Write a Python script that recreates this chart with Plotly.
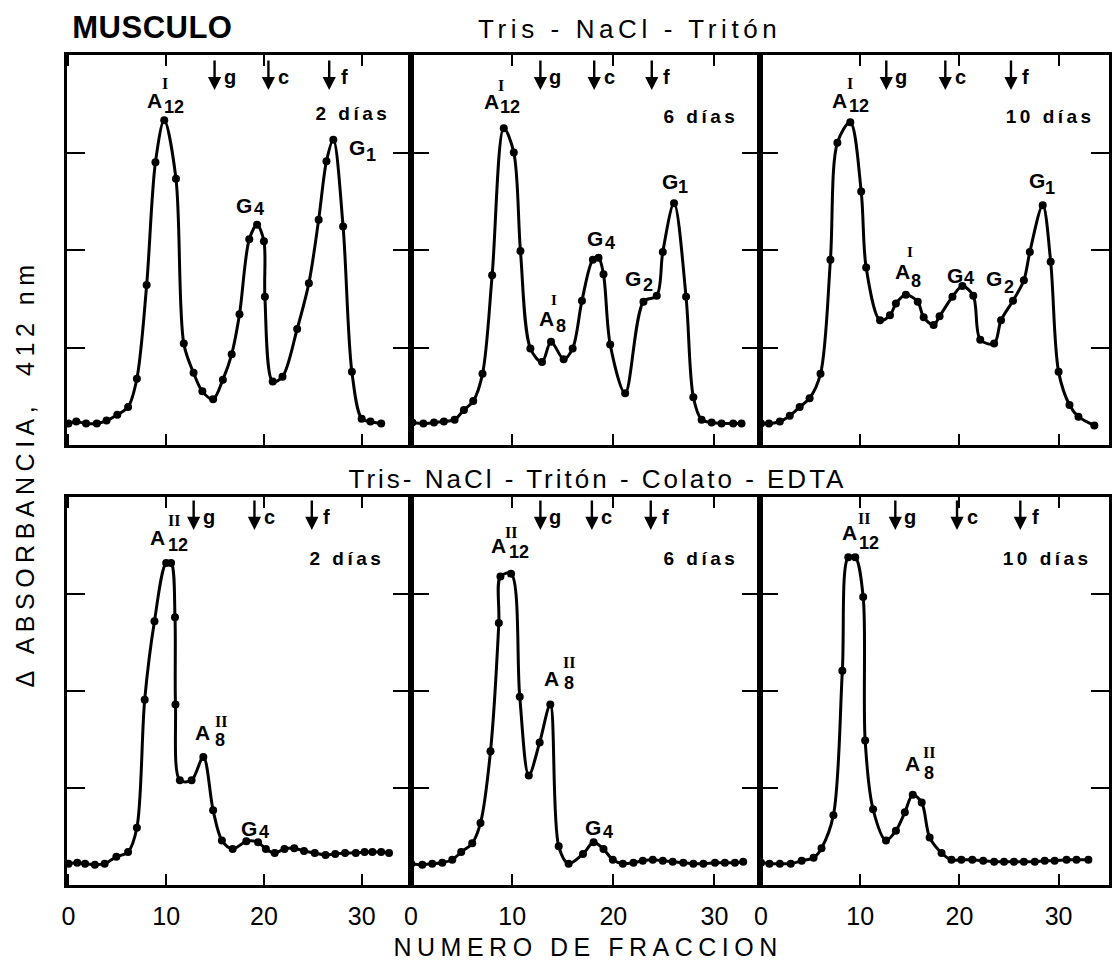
import plotly.graph_objects as go

# ---------------- data (fraction number, delta absorbance in tick units) ----------------
x_p1 = [0, 0.8, 1.8, 2.9, 3.9, 5.0, 6.1, 7.0, 8.0, 8.9, 9.8, 11.0, 11.8, 12.8, 13.7, 14.8, 15.8, 16.7,
        17.5, 18.5, 19.3, 20.0, 20.1, 20.9, 21.9, 23.4, 24.6, 25.6, 26.4, 27.1, 28.1, 29.0, 30.0, 30.9, 32.0]
y_p1 = [0.22, 0.24, 0.22, 0.22, 0.25, 0.31, 0.39, 0.68, 1.64, 2.90, 3.33, 2.73, 1.04, 0.74, 0.55, 0.47, 0.67, 0.93,
        1.34, 2.11, 2.26, 2.09, 1.52, 0.65, 0.70, 1.19, 1.66, 2.31, 2.91, 3.13, 2.24, 0.75, 0.27, 0.24, 0.22]

x_p2 = [0.13, 1.22, 2.27, 3.25, 4.31, 5.23, 6.15, 7.07, 8.02, 9.17, 10.16, 10.82, 11.80, 12.95, 13.84, 15.09,
        15.98, 16.90, 17.98, 18.54, 19.03, 19.69, 21.17, 22.98, 24.29, 24.89, 26.00, 27.19, 27.91, 28.73, 29.72,
        30.70, 31.85, 32.68]
y_p2 = [0.23, 0.22, 0.23, 0.24, 0.26, 0.36, 0.45, 0.73, 1.74, 3.25, 3.00, 1.99, 0.99, 0.85, 1.06, 0.88,
        0.99, 1.48, 1.90, 1.92, 1.75, 1.03, 0.53, 1.47, 1.53, 1.98, 2.48, 1.52, 0.49, 0.26, 0.23,
        0.22, 0.22, 0.22]

x_p3 = [0, 0.8, 1.9, 2.9, 3.9, 4.9, 6.0, 7.0, 7.7, 9.0, 10.1, 10.6, 12.0, 13.0, 13.6, 14.6, 15.8, 16.4, 17.4,
        18.0, 19.3, 20.3, 21.4, 22.1, 23.5, 24.2, 25.4, 26.5, 27.1, 28.4, 29.2, 30.0, 31.1, 32.0, 33.6]
y_p3 = [0.22, 0.22, 0.24, 0.30, 0.39, 0.48, 0.73, 1.90, 3.10, 3.31, 2.60, 1.82, 1.28, 1.33, 1.45, 1.54, 1.47, 1.31,
        1.23, 1.32, 1.52, 1.63, 1.53, 1.08, 1.04, 1.28, 1.48, 1.69, 1.98, 2.46, 1.88, 0.75, 0.41, 0.29, 0.20]

x_p4 = [0, 0.9, 1.7, 2.7, 3.7, 4.9, 6.1, 7.0, 7.8, 8.8, 10.0, 10.5, 10.9, 10.95, 11.4, 12.6, 13.8, 14.8, 15.7,
        16.8, 18.2, 19.4, 20.2, 21.1, 22.1, 23.1, 24.1, 25.2, 26.3, 27.3, 28.3, 29.4, 30.3, 31.1, 32.0, 32.8]
y_p4 = [0.22, 0.23, 0.22, 0.21, 0.22, 0.29, 0.34, 0.59, 1.91, 2.72, 3.32, 3.32, 2.76, 1.86, 1.08, 1.08, 1.32, 0.77,
        0.46, 0.37, 0.45, 0.44, 0.37, 0.33, 0.37, 0.38, 0.35, 0.33, 0.31, 0.32, 0.33, 0.33, 0.34, 0.34, 0.34, 0.33]

x_p5 = [0.03, 1.12, 2.10, 3.09, 4.08, 4.96, 6.05, 6.87, 7.86, 8.68, 8.84, 9.89, 10.75, 11.64, 12.72, 13.77,
        14.60, 15.58, 17.00, 18.05, 19.03, 19.95, 20.94, 21.99, 22.91, 23.90, 24.89, 25.87, 26.92, 27.91,
        28.90, 30.05, 31.03, 32.02, 32.84]
y_p5 = [0.22, 0.21, 0.22, 0.23, 0.26, 0.34, 0.43, 0.64, 1.38, 2.70, 3.18, 3.21, 1.94, 1.13, 1.47, 1.86,
        0.40, 0.22, 0.32, 0.44, 0.37, 0.26, 0.22, 0.23, 0.25, 0.26, 0.25, 0.24, 0.23, 0.22,
        0.22, 0.23, 0.23, 0.23, 0.24]

x_p6 = [0, 0.85, 1.9, 3.0, 4.1, 5.3, 6.1, 7.3, 8.2, 8.8, 9.5, 10.3, 10.5, 11.3, 12.6, 13.6, 14.5, 15.3, 16.2,
        17.0, 18.2, 19.2, 20.2, 21.3, 22.4, 23.5, 24.5, 25.5, 26.5, 27.6, 28.6, 29.6, 30.8, 31.8, 33.0]
y_p6 = [0.23, 0.22, 0.22, 0.22, 0.25, 0.28, 0.38, 0.72, 2.21, 3.38, 3.38, 2.97, 1.49, 0.78, 0.46, 0.56, 0.75,
        0.93, 0.85, 0.49, 0.33, 0.26, 0.26, 0.26, 0.25, 0.24, 0.24, 0.24, 0.24, 0.24, 0.25, 0.25, 0.26, 0.26, 0.26]

# elution positions of markers g, c, f (fraction number) per panel
marker_g = [14.95, 12.79, 12.63, 12.81, 12.79, 13.54]
marker_c = [20.46, 18.11, 18.58, 19.03, 17.88, 19.76]
marker_f = [26.68, 23.80, 25.20, 24.90, 23.70, 26.14]
marker_names = ["g", "c", "f"]

x_tick_vals = [0, 10, 20, 30]
x_tick_text = ["0", "10", "20", "30"]
y_tick_vals = [1, 2, 3]

row_titles = ["Tris - NaCl - Tritón", "Tris- NaCl - Tritón - Colato - EDTA"]
main_title = "MUSCULO"
x_title = "NUMERO DE FRACCION"
y_title = "Δ ABSORBANCIA,  412 nm"

xs = [x_p1, x_p2, x_p3, x_p4, x_p5, x_p6]
ys = [y_p1, y_p2, y_p3, y_p4, y_p5, y_p6]

# ---------------- layout geometry ----------------
W, H = 1114, 978
ML, MR, MT, MB = 67, 2, 55, 93
PW = W - ML - MR
PH = H - MT - MB


def pp(x, y):
    return (x - ML) / PW, (H - MB - y) / PH


col_dom = [[0, 345 / PW], [345 / PW, 695 / PW], [695 / PW, 1.0]]
row_dom = [[(885 - 445) / PH, 1.0], [0.0, (885 - 497) / PH]]
x_ranges = [[-0.15, 35.05], [0, 34.5], [-0.1, 35.08]]

SANS = "Liberation Sans"
SERIF = "Liberation Serif"

fig = go.Figure()
annotations = []

for i in range(6):
    r, c = divmod(i, 3)
    n = i + 1
    xa = "x" if n == 1 else f"x{n}"
    ya = "y" if n == 1 else f"y{n}"
    fig.add_trace(go.Scatter(
        x=xs[i], y=ys[i], mode="lines+markers", xaxis=xa, yaxis=ya,
        line=dict(color="black", width=3, shape="spline", smoothing=0.9),
        marker=dict(color="black", size=8), showlegend=False, hoverinfo="skip"))
    xkey = "xaxis" if n == 1 else f"xaxis{n}"
    ykey = "yaxis" if n == 1 else f"yaxis{n}"
    fig.layout[xkey] = dict(
        domain=col_dom[c], anchor=ya, range=x_ranges[c], tickvals=x_tick_vals, ticktext=x_tick_text,
        ticks="inside", ticklen=11, tickwidth=2.2, tickcolor="black", showline=True, linewidth=2.8,
        linecolor="black", mirror="allticks", showgrid=False, zeroline=False,
        showticklabels=(r == 1), tickfont=dict(family=SANS, size=25, color="black"),
        ticklabelstandoff=7)
    fig.layout[ykey] = dict(
        domain=row_dom[r], anchor=xa, range=[0, 4], tickvals=y_tick_vals,
        ticks="inside", ticklen=18, tickwidth=2.2, tickcolor="black", showline=True, linewidth=2.8,
        linecolor="black", mirror="allticks", showgrid=False, zeroline=False, showticklabels=False)

    head_y = 3.64 if r == 0 else 3.66
    for name, mx in zip(marker_names, [marker_g[i], marker_c[i], marker_f[i]]):
        annotations.append(dict(x=mx, y=head_y, xref=xa, yref=ya, text="", showarrow=True,
                                ax=0, ay=-31, arrowhead=2, arrowsize=1.1, arrowwidth=2.4,
                                arrowcolor="black"))
        annotations.append(dict(x=mx, y=head_y, xref=xa, yref=ya, text=f"<b>{name}</b>",
                                showarrow=False, xshift=15, yshift=13,
                                font=dict(family=SANS, size=20, color="black")))

# peak labels: (text, x_px, y_px, size, family)
peak_labels = [
    # panel 1
    ("A", 155, 100, 21, SANS), ("12", 174, 107, 18, SANS), ("I", 165, 84, 16, SERIF),
    ("2 días", 354, 113, 19, SANS),
    ("G", 245, 206, 21, SANS), ("4", 260, 209, 18, SANS),
    ("G", 358, 147, 21, SANS), ("1", 372, 155, 18, SANS),
    # panel 2
    ("A", 493, 101, 21, SANS), ("12", 511, 107, 18, SANS), ("I", 502, 85, 16, SERIF),
    ("6 días", 703, 117, 19, SANS),
    ("A", 548, 318, 21, SANS), ("8", 562, 326, 18, SANS), ("I", 555, 300, 15, SERIF),
    ("G", 597, 238, 21, SANS), ("4", 612, 243, 18, SANS),
    ("G", 635, 278, 21, SANS), ("2", 650, 285, 18, SANS),
    ("G", 672, 182, 21, SANS), ("1", 685, 187, 18, SANS),
    # panel 3
    ("A", 842, 100, 21, SANS), ("12", 861, 106, 18, SANS), ("I", 852, 83, 16, SERIF),
    ("10 días", 1053, 117, 19, SANS),
    ("A", 905, 271, 21, SANS), ("8", 918, 281, 18, SANS), ("I", 912, 252, 15, SERIF),
    ("G", 958, 275, 21, SANS), ("4", 972, 278, 18, SANS),
    ("G", 997, 278, 21, SANS), ("2", 1012, 287, 18, SANS),
    ("G", 1040, 180, 21, SANS), ("1", 1053, 188, 18, SANS),
    # panel 4
    ("A", 158, 537, 21, SANS), ("12", 178, 545, 18, SANS), ("II", 174, 520, 16, SERIF),
    ("2 días", 348, 558, 19, SANS),
    ("A", 203, 732, 21, SANS), ("8", 220, 740, 18, SANS), ("II", 221, 721, 16, SERIF),
    ("G", 250, 828, 21, SANS), ("4", 265, 832, 18, SANS),
    # panel 5
    ("A", 500, 545, 21, SANS), ("12", 520, 552, 18, SANS), ("II", 512, 532, 16, SERIF),
    ("6 días", 703, 558, 19, SANS),
    ("A", 553, 678, 21, SANS), ("8", 570, 683, 18, SANS), ("II", 570, 662, 16, SERIF),
    ("G", 595, 827, 21, SANS), ("4", 610, 832, 18, SANS),
    # panel 6
    ("A", 852, 532, 21, SANS), ("12", 871, 543, 18, SANS), ("II", 866, 518, 16, SERIF),
    ("10 días", 1050, 558, 19, SANS),
    ("A", 915, 763, 21, SANS), ("8", 931, 773, 18, SANS), ("II", 931, 752, 16, SERIF),
]
for txt, xp, yp, sz, fam in peak_labels:
    px_, py_ = pp(xp, yp)
    annotations.append(dict(x=px_, y=py_, xref="paper", yref="paper", text=f"<b>{txt}</b>",
                            showarrow=False, xanchor="center", yanchor="middle",
                            font=dict(family=fam, size=sz, color="black")))


def title(txt, xp, yp, sz, bold=False, angle=0):
    px_, py_ = pp(xp, yp)
    t = f"<b>{txt}</b>" if bold else txt
    annotations.append(dict(x=px_, y=py_, xref="paper", yref="paper", text=t, showarrow=False,
                            xanchor="center", yanchor="middle", textangle=angle,
                            font=dict(family=SANS, size=sz, color="black")))


title(main_title, 153, 27, 31, bold=True)
title(row_titles[0], 631, 29, 26)
title(row_titles[1], 600, 479, 26)
title(x_title, 590, 947, 25)
title(y_title, 25, 474, 25, angle=-90)

fig.update_layout(
    width=W, height=H, margin=dict(l=ML, r=MR, t=MT, b=MB),
    paper_bgcolor="white", plot_bgcolor="white", annotations=annotations,
    font=dict(family=SANS, color="black"))

# widen letter spacing of the lettering, as in the original typeset figure
post_js = """
var sp = [["Tris- NaCl", 3.0], ["Tris - NaCl", 4.6], ["NUMERO", 5.5], ["ABSORBANCIA", 5.5],
          ["d\u00edas", 3.5], ["MUSCULO", 0.5]];
document.querySelectorAll('text.annotation-text').forEach(function(t){
  var s = t.textContent;
  for (var i = 0; i < sp.length; i++) {
    if (s.indexOf(sp[i][0]) >= 0) { t.style.letterSpacing = sp[i][1] + 'px'; break; }
  }
});
"""

fig.write_html("out.html", post_script=post_js)
